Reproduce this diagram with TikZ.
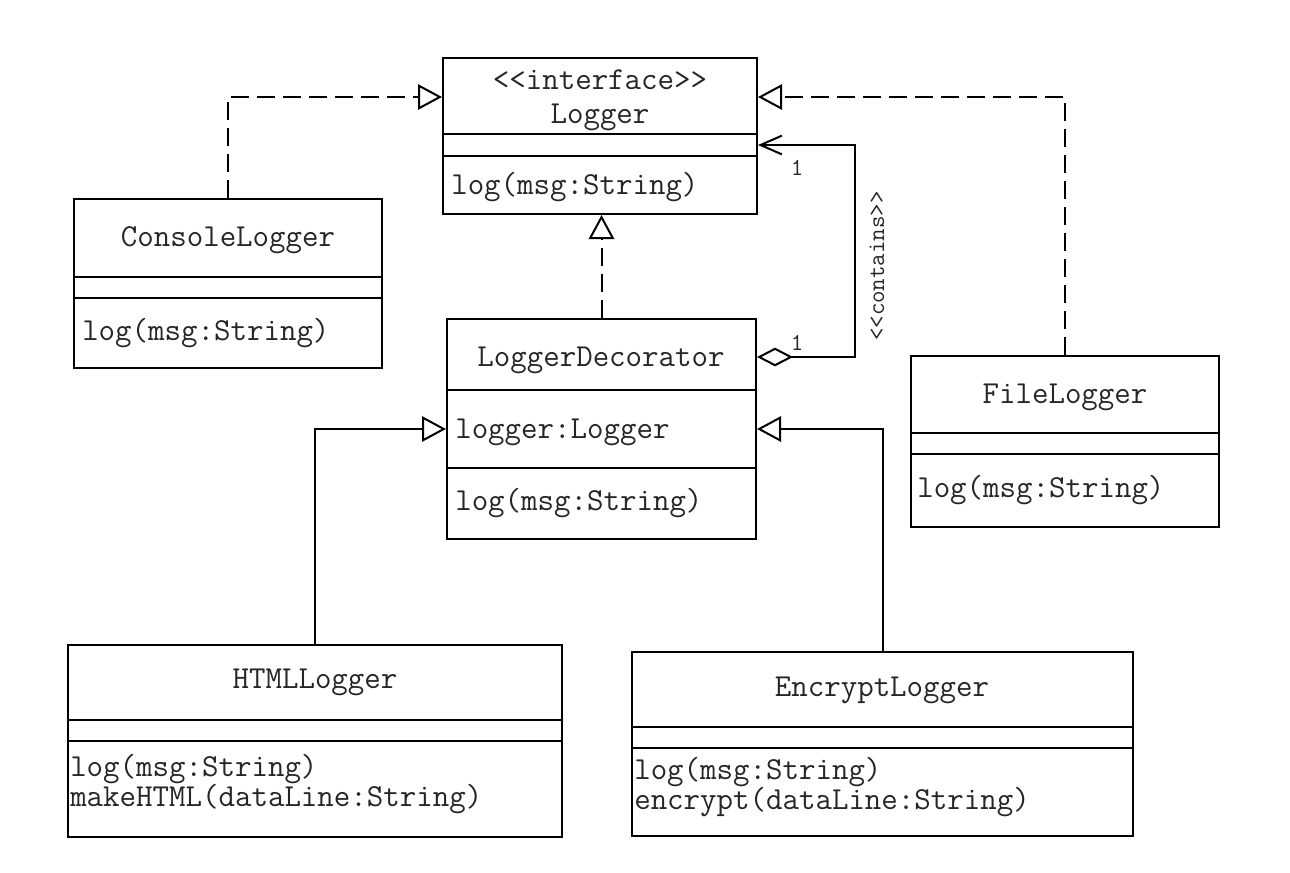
\documentclass[tikz,border=0pt]{standalone}
\usepackage{fontspec}
\usetikzlibrary{arrows.meta,fit}
\begin{document}
\begin{tikzpicture}[x=0.75pt,y=-0.75pt,
  box/.style={draw, line width=1.5pt, inner sep=0pt},
  sep/.style={line width=1.5pt},
  txt/.style={font=\ttfamily\fontsize{24}{20.25}\selectfont, inner sep=0pt, text=black!85},
  meth/.style={txt, anchor=west, align=left},
  lbl/.style={font=\ttfamily\fontsize{18.2}{20}\selectfont, inner sep=0pt, text=black!85},
  conn/.style={line width=1.5pt, line join=miter},
  dashconn/.style={conn, dash pattern=on 13.5pt off 6pt},
  gen/.style={-{Triangle[open,length=18pt,width=19pt]}},
  agg/.style={{Diamond[open,length=27pt,width=14pt]}-{Straight Barb[length=16pt,width=14pt]}}
]
\useasboundingbox (0,0) rectangle (1290,872);
\fill[white] (0,0) rectangle (1290,872);

% Logger
\node[box, fit={(443,58) (757,214)}] (logger) {};
\draw[sep] (logger.west |- 0,134) -- (logger.east |- 0,134);
\draw[sep] (logger.west |- 0,156) -- (logger.east |- 0,156);
\node[txt, align=center] (loggername) at (600,100) {<<interface>>\\[5pt]Logger};
\node[meth] (loggerm) at (451,187) {log(msg:String)};

% ConsoleLogger
\node[box, fit={(74,199) (382,368)}] (console) {};
\draw[sep] (console.west |- 0,277) -- (console.east |- 0,277);
\draw[sep] (console.west |- 0,298) -- (console.east |- 0,298);
\node[txt] (consolename) at (228,240) {ConsoleLogger};
\node[meth] (consolem) at (82,333) {log(msg:String)};

% LoggerDecorator
\node[box, fit={(447,319) (756,539)}] (dec) {};
\draw[sep] (dec.west |- 0,390) -- (dec.east |- 0,390);
\draw[sep] (dec.west |- 0,468) -- (dec.east |- 0,468);
\node[txt] (decname) at (601,360) {LoggerDecorator};
\node[meth] (deca) at (455,432) {logger:Logger};
\node[meth] (decm) at (455,503) {log(msg:String)};

% FileLogger
\node[box, fit={(911,356) (1219,527)}] (file) {};
\draw[sep] (file.west |- 0,433) -- (file.east |- 0,433);
\draw[sep] (file.west |- 0,454) -- (file.east |- 0,454);
\node[txt] (filename) at (1065,397) {FileLogger};
\node[meth] (filem) at (917,490) {log(msg:String)};

% HTMLLogger
\node[box, fit={(68,645) (562,837)}] (html) {};
\draw[sep] (html.west |- 0,720) -- (html.east |- 0,720);
\draw[sep] (html.west |- 0,741) -- (html.east |- 0,741);
\node[txt] (htmlname) at (315,682) {HTMLLogger};
\node[meth] (htmlm) at (70,784) {log(msg:String)\\makeHTML(dataLine:String)};

% EncryptLogger
\node[box, fit={(632,652) (1133,836)}] (enc) {};
\draw[sep] (enc.west |- 0,727) -- (enc.east |- 0,727);
\draw[sep] (enc.west |- 0,748) -- (enc.east |- 0,748);
\node[txt] (encname) at (882,690) {EncryptLogger};
\node[meth] (encm) at (634,787) {log(msg:String)\\encrypt(dataLine:String)};

% realizations
\draw[dashconn, gen] (console.north) |- (logger.west |- 0,97);
\draw[dashconn, gen] (file.north) |- (logger.east |- 0,97);
\draw[dashconn, gen] (dec.north) -- (dec.north |- logger.south);

% generalizations
\draw[conn, gen] (html.north) |- (dec.west |- 0,429);
\draw[conn, gen] (enc.north) |- (dec.east |- 0,429);

% aggregation
\coordinate (aggA) at (855,357);
\coordinate (aggB) at (855,145);
\draw[conn, agg] (dec.east |- aggA) -- (aggA) -- (aggB) -- (logger.east |- aggB);
\node[lbl] (m1) at (797,168) {1};
\node[lbl] (m2) at (797,343) {1};
\node[lbl, rotate=90] (contains) at (877,266) {<<contains>>};
\end{tikzpicture}
\end{document}
